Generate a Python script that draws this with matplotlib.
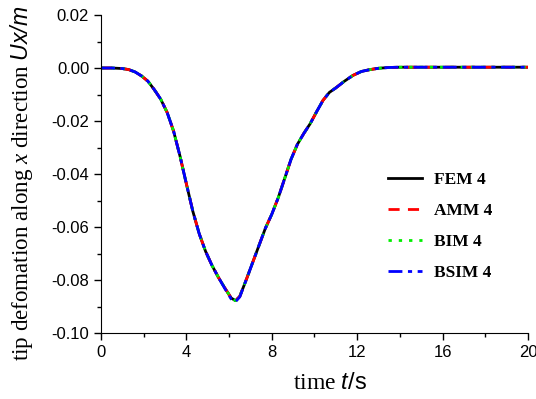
import matplotlib
matplotlib.use("Agg")
import matplotlib.pyplot as plt

plt.rcParams['font.family'] = ['Liberation Sans', 'DejaVu Sans']
plt.rcParams['mathtext.fontset'] = 'custom'
plt.rcParams['mathtext.rm'] = 'Liberation Serif'
plt.rcParams['mathtext.it'] = 'Liberation Serif:italic'
plt.rcParams['mathtext.cal'] = 'Liberation Sans:italic'
plt.rcParams['mathtext.sf'] = 'Liberation Sans'

t = [0, 0.5, 1.0, 1.3, 1.6, 1.9, 2.2, 2.5, 2.8, 3.1, 3.4, 3.7, 4.0, 4.3, 4.6,
     4.9, 5.2, 5.5, 5.8, 6.1, 6.3, 6.5, 6.8, 7.1, 7.4, 7.7, 8.0, 8.3, 8.6, 8.9,
     9.2, 9.5, 9.8, 10.1, 10.4, 10.7, 11.0, 11.4, 11.8, 12.2, 12.6, 13.0, 13.5,
     14, 16, 18, 20]
fem = [0, 0, -0.0002, -0.0006, -0.0015, -0.003, -0.005, -0.0082, -0.0118,
       -0.0168, -0.0238, -0.0332, -0.0437, -0.0540, -0.0625, -0.0692, -0.0745,
       -0.0790, -0.0830, -0.0868, -0.0878, -0.0862, -0.0800, -0.0735, -0.0670,
       -0.0605, -0.0552, -0.0490, -0.0418, -0.0345, -0.0288, -0.0247, -0.0210,
       -0.0165, -0.0122, -0.0092, -0.0075, -0.0050, -0.0028, -0.0013, -0.0006,
       -0.0001, 0.0002, 0.0003, 0.0003, 0.0003, 0.0003]
amm = list(fem)
bim = list(fem)
bsim = [0, 0, -0.0002, -0.0006, -0.0015, -0.003, -0.005, -0.0082, -0.0118,
        -0.0168, -0.0238, -0.0332, -0.0437, -0.0540, -0.0625, -0.0692, -0.0745,
        -0.0790, -0.0832, -0.0872, -0.0882, -0.0864, -0.0800, -0.0735, -0.0670,
        -0.0605, -0.0552, -0.0490, -0.0418, -0.0345, -0.0288, -0.0247, -0.0210,
        -0.0165, -0.0122, -0.0092, -0.0075, -0.0050, -0.0028, -0.0013, -0.0006,
        -0.0001, 0.0002, 0.0003, 0.0003, 0.0003, 0.0003]

labels = ['FEM 4', 'AMM 4', 'BIM 4', 'BSIM 4']
colors = ['black', 'red', '#00ee00', 'blue']
styles = ['-', (0, (4, 3)), (0, (1.2, 2.5)), (0, (5, 2, 1.5, 2))]
series = [fem, amm, bim, bsim]

fig = plt.figure(figsize=(5.36, 3.99), dpi=100)
ax = fig.add_axes([0.1884, 0.1654, 0.7966, 0.797])

for s, lab, c, ls in zip(series, labels, colors, styles):
    ax.plot(t, s, color=c, linestyle=ls, linewidth=2, label=lab)

ax.set_xlim(0, 20)
ax.set_ylim(-0.10, 0.02)
ax.set_xticks([0, 4, 8, 12, 16, 20])
ax.set_xticks([2, 6, 10, 14, 18], minor=True)
ax.set_yticks([-0.10, -0.08, -0.06, -0.04, -0.02, 0.00, 0.02])
ax.set_yticks([-0.09, -0.07, -0.05, -0.03, -0.01, 0.01], minor=True)
ax.set_yticklabels(['-0.10', '-0.08', '-0.06', '-0.04', '-0.02', '0.00', '0.02'])
for sp in ['top', 'right']:
    ax.spines[sp].set_visible(False)
ax.tick_params(which='major', direction='out', length=5, width=1, labelsize=12)
ax.tick_params(which='minor', direction='out', length=3, width=1)

ax.set_xlabel(r'time $\mathcal{t}\mathsf{/s}$', fontsize=17, family='Liberation Serif')
ax.xaxis.set_label_coords(0.536, -0.125)
ax.set_ylabel(r'tip defomation along $x$ direction $\mathcal{Ux/m}$', fontsize=16.6,
              family='Liberation Serif')
ax.yaxis.set_label_coords(-0.155, 0.47)

leg = ax.legend(loc='upper left', bbox_to_anchor=(0.635, 0.555), frameon=False,
                prop={'family': 'Liberation Serif', 'weight': 'bold', 'size': 12.5},
                handlelength=2.0, labelspacing=0.85, handletextpad=0.65)

fig.savefig('out.png', dpi=100)
